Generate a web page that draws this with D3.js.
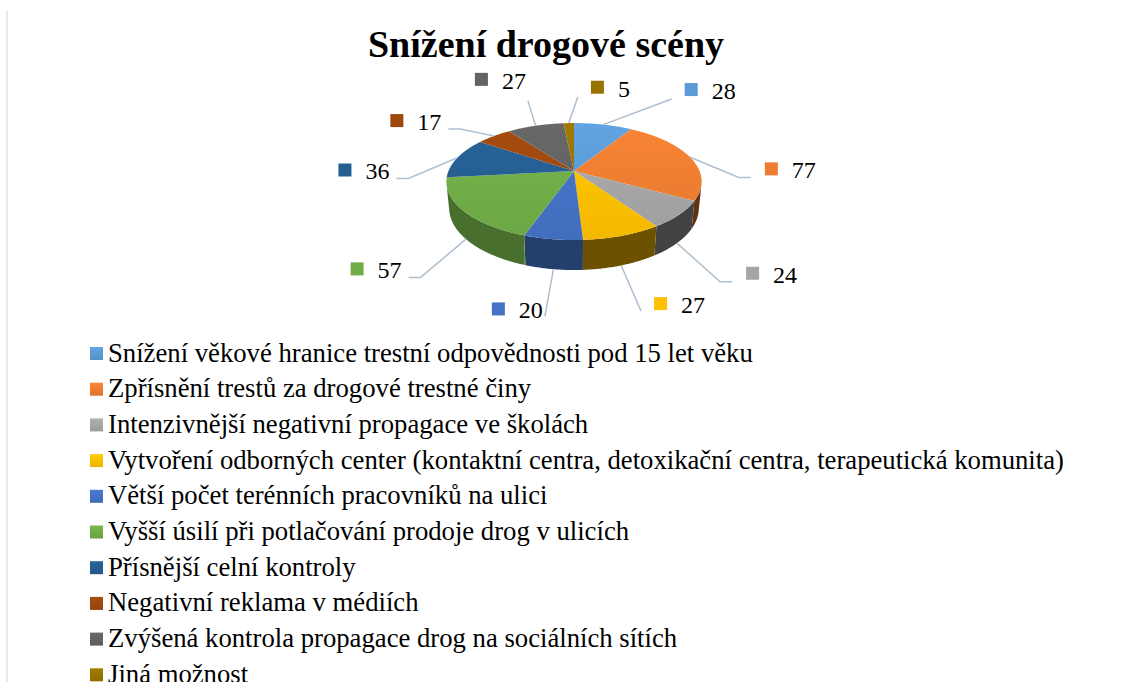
<!DOCTYPE html>
<html lang="cs">
<head>
<meta charset="UTF-8">
<title>Snížení drogové scény</title>
<script src="https://cdn.jsdelivr.net/npm/d3@7"></script>
<style>
  body { margin: 0; background: #fff; }
  text { font-family: "Liberation Serif", "Times New Roman", serif; fill: #000; }
</style>
</head>
<body>
<svg id="chart" width="1130" height="682"></svg>
<script>
// ---- data ----
const categories = [
  "Snížení věkové hranice trestní odpovědnosti pod 15 let věku",
  "Zpřísnění trestů za drogové trestné činy",
  "Intenzivnější negativní propagace ve školách",
  "Vytvoření odborných center (kontaktní centra, detoxikační centra, terapeutická komunita)",
  "Větší počet terénních pracovníků na ulici",
  "Vyšší úsilí při potlačování prodoje drog v ulicích",
  "Přísnější celní kontroly",
  "Negativní reklama v médiích",
  "Zvýšená kontrola propagace drog na sociálních sítích",
  "Jiná možnost"
];
const values = [28, 77, 24, 27, 20, 57, 36, 17, 27, 5];
const colors = ["#5B9BD5", "#ED7D31", "#A5A5A5", "#FFC000", "#4472C4",
                "#70AD47", "#255E91", "#9E480E", "#636363", "#997300"];
const title = "Snížení drogové scény";

const svg = d3.select("#chart");
const defs = svg.append("defs");

// frame line on the left
svg.append("line")
  .attr("x1", 7).attr("x2", 7).attr("y1", 11).attr("y2", 682)
  .attr("stroke", "#dde1e6").attr("stroke-width", 1.5);

svg.append("text")
  .attr("x", 546).attr("y", 57)
  .attr("text-anchor", "middle")
  .style("font-size", "38px").style("font-weight", "bold")
  .text(title);

// ---- 3d pie projection ----
const cx = 574, cy = 171;          // apex of the pie on screen
const dist = 4.955;                 // camera distance (pie radius = 1)
const tilt = 26.8 * Math.PI / 180;
const focal = 622;
const thick = 0.2387;
const cosT = Math.cos(tilt), sinT = Math.sin(tilt);

function project(theta, h) {
  const X = Math.sin(theta), Z = Math.cos(theta);
  const d = dist + Z * cosT - h * sinT;
  return [cx + focal * X / d, cy - focal * (h * cosT + Z * sinT) / d];
}
function edge(a0, a1, h) {
  const n = Math.max(2, Math.ceil(Math.abs(a1 - a0) / 0.01));
  return d3.range(n + 1).map(i => project(a0 + (a1 - a0) * i / n, h));
}

const arcs = d3.pie().sort(null).value(d => d)(values);
const line = d3.line();

// visible part of the side wall
const visA = Math.acos(-1 / (dist * cosT));
const visB = 2 * Math.PI - visA;
const lightAt = t => 0.4 + 0.48 * Math.max(0, Math.min(1, (t - 140 * Math.PI / 180) / (117 * Math.PI / 180)));

const sides = svg.append("g");
const tops = svg.append("g");

arcs.forEach((a, i) => {
  const base = d3.rgb(colors[i]);
  const s = Math.max(a.startAngle, visA), e = Math.min(a.endAngle, visB);
  if (e > s) {
    const topEdge = edge(s, e, 0);
    const botEdge = edge(s, e, -thick).reverse();
    const xs = topEdge.map(p => p[0]);
    const x0 = d3.min(xs), x1 = d3.max(xs);
    const g = defs.append("linearGradient").attr("id", "side" + i)
      .attr("gradientUnits", "userSpaceOnUse")
      .attr("x1", x0).attr("x2", x1).attr("y1", 0).attr("y2", 0);
    const steps = 6;
    d3.range(steps + 1).map(k => s + (e - s) * k / steps).forEach(t => {
      const px = project(t, 0)[0];
      const f = lightAt(t);
      g.append("stop")
        .attr("offset", x1 > x0 ? (px - x0) / (x1 - x0) : 0)
        .attr("stop-color", d3.rgb(base.r * f, base.g * f, base.b * f));
    });
    sides.append("path")
      .attr("d", line(topEdge.concat(botEdge)) + "Z")
      .attr("fill", "url(#side" + i + ")");
  }
  const tg = defs.append("linearGradient").attr("id", "top" + i)
    .attr("gradientUnits", "userSpaceOnUse")
    .attr("x1", 0).attr("x2", 0).attr("y1", 120).attr("y2", 242);
  tg.append("stop").attr("offset", 0).attr("stop-color", base.brighter(0.15));
  tg.append("stop").attr("offset", 1).attr("stop-color", base.darker(0.12));
  tops.append("path")
    .attr("d", line([[cx, cy]].concat(edge(a.startAngle, a.endAngle, 0))) + "Z")
    .attr("fill", "url(#top" + i + ")");
});

// ---- data labels with leader lines ----
const fontLabel = 24;
const keyW = 13, keyGap = 14;
const labels = arcs.map((a, i) => {
  const mid = (a.startAngle + a.endAngle) / 2;
  const onSide = mid > visA && mid < visB;
  const S = project(mid, onSide ? -thick : 0);
  const dx = S[0] - cx, dy = S[1] - cy;
  const sn = Math.sin(mid);
  const upright = Math.abs(sn) < 0.4;
  let E;
  if (upright && dy < 0) E = [S[0] + 0.2 * dx, S[1] + 0.55 * dy];
  else E = [S[0] + 0.42 * dx, S[1] + 0.42 * dy + 6 + (upright ? 0 : 26 * Math.pow(sn, 8))];
  const txt = String(values[i]);
  const tw = txt.length * fontLabel * 0.5;
  return { i, mid, S, E, dy, upright, right: dx > -10, txt, w: keyW + keyGap + tw };
});

function layout(l) {
  if (l.upright) {
    l.base = l.dy < 0 ? l.E[1] - (l.right ? 0 : 12) : l.E[1] + 2;
    l.left = l.right ? l.E[0] + 13 : l.E[0] - 2 - l.w;
    l.tail = null;
  } else {
    l.tail = [l.E[0] + (l.right ? 12 : -12), l.E[1]];
    l.base = l.E[1] + 1;
    l.left = l.right ? l.tail[0] + 14 : l.tail[0] - 7 - l.w;
  }
}
labels.forEach(layout);

// keep neighbouring labels in the upper half apart
const minGap = 65;
labels.forEach((l, k) => {
  const p = labels[(k - 1 + labels.length) % labels.length];
  if (Math.cos(l.mid) <= 0 || Math.cos(p.mid) <= 0) return;
  if (Math.abs(l.base - p.base) > 25) return;
  const need = p.left + p.w + minGap - l.left;
  if (need > 0) { l.E[0] += need; layout(l); }
});

const labelG = svg.append("g");
labels.forEach(l => {
  const pts = l.tail ? [l.S, l.E, l.tail] : [l.S, l.E];
  labelG.append("path")
    .attr("d", line(pts))
    .attr("fill", "none").attr("stroke", "#aebfd0").attr("stroke-width", 1.5);
  labelG.append("rect")
    .attr("x", l.left).attr("y", l.base - 16)
    .attr("width", keyW).attr("height", keyW)
    .attr("fill", colors[l.i]);
  labelG.append("text")
    .attr("x", l.left + keyW + keyGap).attr("y", l.base)
    .style("font-size", fontLabel + "px")
    .text(l.txt);
});

// ---- legend ----
const legend = svg.append("g");
categories.forEach((c, i) => {
  const top = 347 + 35.7 * i;
  const lg = defs.append("linearGradient").attr("id", "leg" + i)
    .attr("x1", 0).attr("x2", 0).attr("y1", 0).attr("y2", 1);
  lg.append("stop").attr("offset", 0).attr("stop-color", d3.rgb(colors[i]).brighter(0.2));
  lg.append("stop").attr("offset", 1).attr("stop-color", d3.rgb(colors[i]).darker(0.2));
  legend.append("rect")
    .attr("x", 90).attr("y", top).attr("width", 13).attr("height", 13)
    .attr("fill", "url(#leg" + i + ")");
  legend.append("text")
    .attr("x", 108).attr("y", top + 14.5)
    .style("font-size", "26.7px")
    .text(c);
});
</script>
</body>
</html>
